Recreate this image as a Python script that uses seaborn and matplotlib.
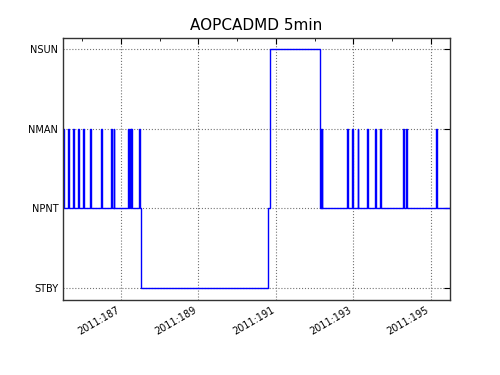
import matplotlib
matplotlib.use("Agg")
import matplotlib.pyplot as plt
import seaborn as sns
import pandas as pd
from matplotlib.ticker import FixedLocator, MultipleLocator

# State labels (y categories, bottom to top)
state_labels = ["STBY", "NPNT", "NMAN", "NSUN"]

# Transition times (day of year 2011) and the state entered at each time
times = [185.50, 185.52, 185.63, 185.655, 185.76, 185.785, 185.89, 185.915,
         186.02, 186.045, 186.21, 186.235, 186.47, 186.495, 186.73, 186.755,
         186.805, 186.83, 187.19, 187.215, 187.23, 187.255, 187.265, 187.28,
         187.475, 187.495, 187.505, 190.80, 190.85, 192.13, 192.14, 192.16,
         192.175, 192.185, 192.20, 192.835, 192.86, 192.98, 193.00, 193.11,
         193.13, 193.365, 193.39, 193.565, 193.59, 193.69, 193.71, 194.29,
         194.31, 194.375, 194.395, 195.13, 195.155, 195.50]
states = ["NMAN", "NPNT", "NMAN", "NPNT", "NMAN", "NPNT", "NMAN", "NPNT",
          "NMAN", "NPNT", "NMAN", "NPNT", "NMAN", "NPNT", "NMAN", "NPNT",
          "NMAN", "NPNT", "NMAN", "NPNT", "NMAN", "NPNT", "NMAN", "NPNT",
          "NMAN", "NPNT", "STBY", "NPNT", "NSUN", "NMAN", "NPNT", "NMAN",
          "NPNT", "NMAN", "NPNT", "NMAN", "NPNT", "NMAN", "NPNT", "NMAN",
          "NPNT", "NMAN", "NPNT", "NMAN", "NPNT", "NMAN", "NPNT", "NMAN",
          "NPNT", "NMAN", "NPNT", "NMAN", "NPNT", "NPNT"]

tick_days = [187, 189, 191, 193, 195]
tick_labels = ["2011:187", "2011:189", "2011:191", "2011:193", "2011:195"]

df = pd.DataFrame({"time": times,
                   "code": [state_labels.index(s) for s in states]})

sns.set_style("white")
plt.rcParams["font.family"] = ["DejaVu Sans"]

fig = plt.figure(figsize=(5, 3.75), dpi=100)
ax = fig.add_axes([0.126, 0.2, 0.774, 0.699])

sns.lineplot(data=df, x="time", y="code", ax=ax, estimator=None,
             drawstyle="steps-post", color="#0000ff", linewidth=1.0)

ax.set_xlim(185.5, 195.5)
ax.set_ylim(-0.15, 3.14)
ax.yaxis.set_major_locator(FixedLocator(range(len(state_labels))))
ax.set_yticklabels(state_labels, fontsize=7)
ax.xaxis.set_major_locator(FixedLocator(tick_days))
ax.xaxis.set_minor_locator(MultipleLocator(1))
ax.set_xticklabels(tick_labels, fontsize=7, rotation=30, ha="right")
ax.set_xlabel("")
ax.set_ylabel("")
ax.set_title("AOPCADMD 5min", fontsize=11, color="black")

ax.grid(True, which="major", linestyle=":", color="0.45", linewidth=0.8)
ax.tick_params(which="both", direction="in", top=True, right=True, colors="k")
ax.tick_params(which="major", length=4)
ax.tick_params(which="minor", length=2)
for s in ax.spines.values():
    s.set_color("#333333")
    s.set_linewidth(1.0)

fig.savefig("out.png", dpi=100, facecolor="white")
